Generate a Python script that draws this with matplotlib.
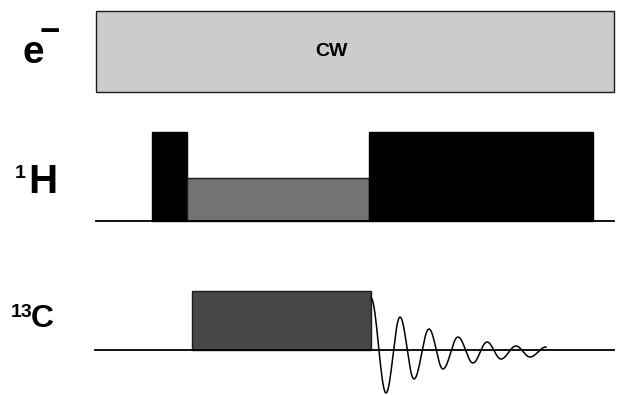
import numpy as np
import matplotlib.pyplot as plt
import matplotlib.patches as mpatches

plt.rcParams["font.family"] = ["Liberation Sans", "DejaVu Sans"]

# channel labels: main symbol and superscript
label_main = ["e", "H", "C"]
label_sup = ["\u2212", "1", "13"]
baselines = [92, 221, 350]

# pulse blocks per channel: (x start, x end, height above baseline, grey level)
e_pulses = [(96, 614, 81, 0.80)]
h_pulses = [(152, 187, 89, 0.0), (187, 369, 43, 0.45), (369, 593, 89, 0.0)]
c_pulses = [(192, 371, 59, 0.28)]

# FID extrema: x position and amplitude (pixels, up positive)
fid_x = [371, 386, 400, 414, 429, 443, 458, 473, 487, 501, 516, 530, 546]
fid_amp = [52, -43, 33, -29, 21, -19, 13, -13, 8, -9, 4, -7, 3]


def draw_block(ax, x0, x1, height, base, grey):
    ax.add_patch(
        mpatches.Rectangle(
            (x0, base - height),
            x1 - x0,
            height,
            facecolor=str(grey),
            edgecolor="0.1" if grey > 0 else "black",
            linewidth=1.0,
        )
    )


fig = plt.figure(figsize=(6.17, 3.95), dpi=100)
ax = fig.add_axes([0, 0, 1, 1])
ax.set_xlim(0, 617)
ax.set_ylim(395, 0)
ax.axis("off")

# electron channel: continuous-wave box
for x0, x1, h, g in e_pulses:
    draw_block(ax, x0, x1, h, baselines[0], g)
ax.text(331, 56, "CW", ha="center", va="baseline", fontsize=14, fontweight="bold")

# proton channel
ax.plot([96, 614], [baselines[1]] * 2, color="black", lw=1.3)
for x0, x1, h, g in h_pulses:
    draw_block(ax, x0, x1, h, baselines[1], g)

# carbon channel
ax.plot([95, 614], [baselines[2]] * 2, color="black", lw=1.3)
for x0, x1, h, g in c_pulses:
    draw_block(ax, x0, x1, h, baselines[2], g)

# FID: half-cosine segments joining the extrema
xs, ys = [], []
for i in range(len(fid_x) - 1):
    t = np.linspace(0, 1, 20)
    a0, a1 = fid_amp[i], fid_amp[i + 1]
    mid = (a0 + a1) / 2
    half = (a0 - a1) / 2
    xs.extend(fid_x[i] + t * (fid_x[i + 1] - fid_x[i]))
    ys.extend(baselines[2] - (mid + half * np.cos(np.pi * t)))
ax.plot(xs, ys, color="black", lw=1.1)

# labels
kw = dict(ha="left", va="baseline", fontweight="bold")
ax.text(22, 63, label_main[0], fontsize=28, **kw)
ax.text(40, 42, label_sup[0], fontsize=25, **kw)
ax.text(28, 193, label_main[1], fontsize=29, **kw)
ax.text(15, 178, label_sup[1], fontsize=14, **kw)
ax.text(31, 327, label_main[2], fontsize=23, **kw)
ax.text(11, 317, label_sup[2], fontsize=14, **kw)

fig.savefig("out.png", dpi=100)
